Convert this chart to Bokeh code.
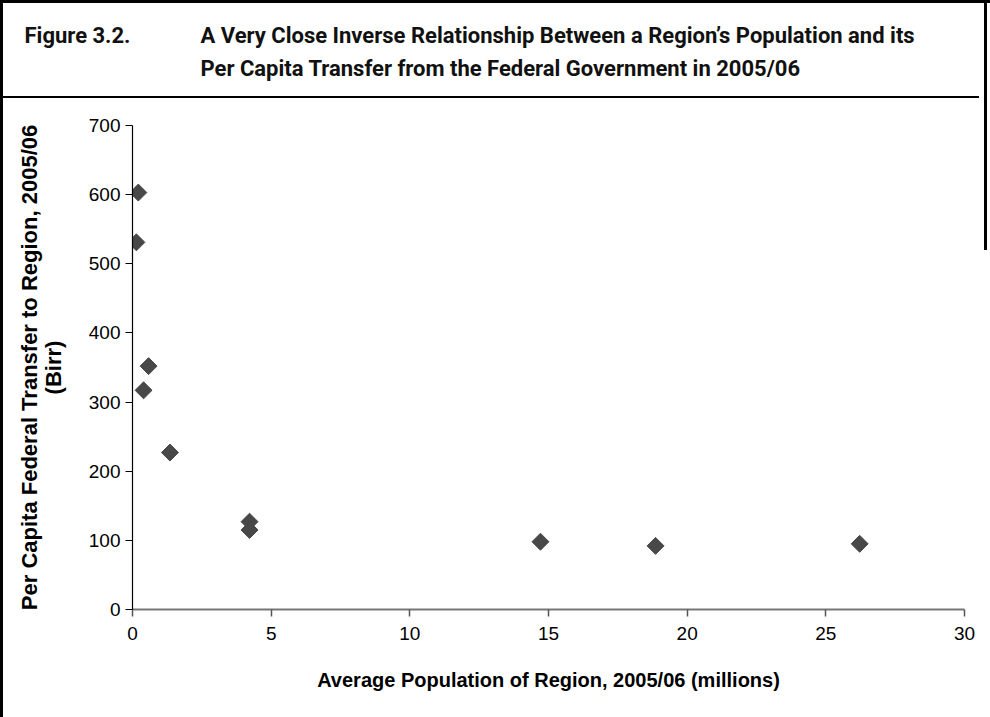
from bokeh.plotting import figure
from bokeh.layouts import column
from bokeh.models import FixedTicker, ColumnDataSource, Range1d
from bokeh.core.properties import value
from bokeh.embed import file_html
from bokeh.resources import INLINE
import math

# Data
population_millions = [0.21, 0.14, 0.58, 0.40, 1.35, 4.22, 4.22, 14.71, 18.86, 26.22]
transfer_birr = [603, 531, 352, 317, 227, 127, 115, 98, 92, 95]

x_ticks = [0, 5, 10, 15, 20, 25, 30]
y_ticks = [0, 100, 200, 300, 400, 500, 600, 700]

title_number = "Figure 3.2."
title_line1 = "A Very Close Inverse Relationship Between a Region\u2019s Population and its"
title_line2 = "Per Capita Transfer from the Federal Government in 2005/06"
x_label = "Average Population of Region, 2005/06 (millions)"
y_label = "Per Capita Federal Transfer to Region, 2005/06\n(Birr)"

W = 990
TOP_H = 110
MAIN_H = 607

# ---- title strip (pixel coordinates, y downwards) ----
t = figure(width=W, height=TOP_H, output_backend="svg", toolbar_location=None,
           x_range=Range1d(0, W), y_range=Range1d(TOP_H, 0),
           min_border=0, x_axis_type=None, y_axis_type=None)
try:
    t.frame_align = False
except Exception:
    pass
t.outline_line_color = None
t.xgrid.visible = False
t.ygrid.visible = False
t.background_fill_color = None
t.border_fill_color = None
TITLE_FONT = "Roboto"
for txt, tx, ty in ((title_number, 24, 35), (title_line1, 200, 35), (title_line2, 200, 68)):
    t.text(x=[tx], y=[ty], text=[txt], text_font=value(TITLE_FONT),
           text_font_size=value("22px"), text_font_style="bold", text_color="#111111",
           text_baseline="alphabetic", text_align="left")

# ---- main scatter ----
p = figure(width=W, height=MAIN_H, output_backend="svg", toolbar_location=None,
           x_range=(0, 30), y_range=(0, 700),
           min_border_left=132, min_border_right=26, min_border_top=15, min_border_bottom=108)
try:
    p.frame_align = False
except Exception:
    pass
p.outline_line_color = None
p.xgrid.visible = False
p.ygrid.visible = False
p.background_fill_color = None
p.border_fill_color = None

src = ColumnDataSource(dict(x=population_millions, y=transfer_birr))
p.scatter("x", "y", source=src, marker="square", size=12, angle=math.pi / 4,
          fill_color="#484848", line_color="#484848")

TICK_FONT = "'Liberation Sans', Arial, sans-serif"
for ax in (p.xaxis[0], p.yaxis[0]):
    ax.major_label_text_font = TICK_FONT
    ax.major_label_text_font_size = "19px"
    ax.major_label_text_color = "black"
    ax.axis_label_text_font = TICK_FONT
    ax.axis_label_text_font_style = "bold"
    ax.axis_label_text_color = "black"
    ax.minor_tick_line_color = None
    ax.major_tick_in = 0
    ax.major_tick_out = 7

p.xaxis.axis_label_text_font_size = "20px"
p.yaxis.axis_label_text_font_size = "22px"
p.yaxis.axis_label_text_line_height = 0.95
p.xaxis.ticker = FixedTicker(ticks=x_ticks)
p.yaxis.ticker = FixedTicker(ticks=y_ticks)
p.xaxis.axis_label = x_label
p.yaxis.axis_label = y_label
p.xaxis.axis_line_color = "#777777"
p.xaxis.axis_line_width = 2
p.xaxis.major_tick_line_color = "#555555"
p.xaxis.major_tick_line_width = 1.5
p.yaxis.axis_line_color = "black"
p.yaxis.axis_line_width = 1.2
p.yaxis.major_tick_line_color = "black"
p.xaxis.major_label_standoff = 10
p.yaxis.major_label_standoff = 5
p.xaxis.axis_label_standoff = 26
p.yaxis.axis_label_standoff = 20

layout = column(t, p, spacing=0)
# frame lines of the figure box, drawn as CSS backgrounds behind the transparent canvases
layout.styles = {
    "background": (
        "linear-gradient(#000,#000) 0 0/100% 3px no-repeat, "
        "linear-gradient(#000,#000) 0 0/3px 100% no-repeat, "
        "linear-gradient(#000,#000) 984px 0/3px 250px no-repeat, "
        "linear-gradient(#000,#000) 0 96px/979px 2px no-repeat, #fff"
    )
}

open("out.html", "w").write(file_html(layout, INLINE))
